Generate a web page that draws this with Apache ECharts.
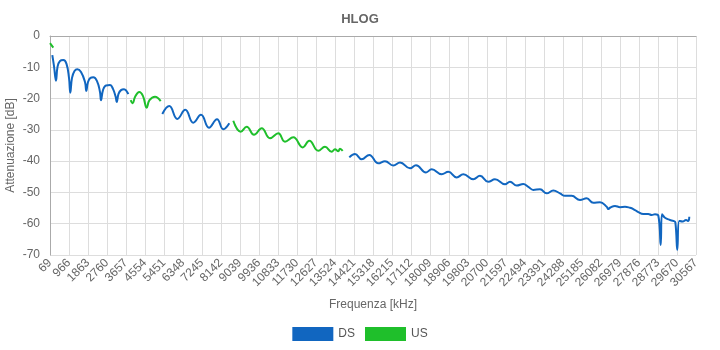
<!DOCTYPE html>
<html>
<head>
<meta charset="utf-8">
<script src="https://cdn.jsdelivr.net/npm/echarts@6/dist/echarts.min.js"></script>
<style>
  html, body { margin: 0; padding: 0; background: #fff; }
  #chart { width: 720px; height: 350px; }
</style>
</head>
<body>
<div id="chart"></div>
<script>
// HLOG per band: frequency in kHz, attenuation in dB
const ds1Freq = [178, 258, 352, 423, 541, 697, 848, 966, 1027, 1108, 1226, 1358, 1533, 1721, 1783, 1863, 1981, 2113, 2288, 2429, 2477, 2571, 2713, 2902, 3043, 3171, 3218, 3303, 3421, 3563, 3681, 3766];
const ds1Att  = [-6.1, -9.6, -14.3, -9.9, -8.0, -7.7, -8.9, -13.4, -18.1, -13.4, -11.2, -10.6, -11.5, -14.7, -17.5, -14.7, -13.4, -13.2, -14.4, -17.9, -20.5, -17.3, -15.8, -15.7, -16.9, -19.5, -21.1, -18.5, -17.3, -17.0, -17.6, -18.6];

const ds2Freq = [5371, 5701, 6079, 6456, 6834, 7197, 7575, 7953, 8251, 8534];
const ds2Att  = [-24.9, -22.4, -26.5, -23.6, -27.7, -25.2, -29.3, -26.6, -29.8, -27.9];

const ds3Freq = [14199, 14468, 14784, 15143, 15568, 15884, 16276, 16593, 17065, 17348, 17820, 18089, 18561, 18873, 19269, 19581, 20053, 20369, 20761, 21077, 21550, 21786, 22102, 22413, 22650, 22886, 23202, 23518, 23830, 24146, 24382, 24698, 25090, 25406, 25718, 26035, 26351, 26426, 26507, 26743, 26979, 27215, 27451, 27607, 27843, 28079, 28315, 28475, 28631, 28787, 28900, 28962, 29103, 29339, 29495, 29590, 29684, 29778, 29938, 30095, 30203, 30250];
const ds3Att  = [-38.8, -37.7, -39.4, -38.0, -40.7, -40.0, -41.4, -40.4, -42.3, -41.3, -43.6, -42.6, -44.2, -43.4, -45.2, -44.2, -45.8, -44.7, -46.6, -45.8, -47.4, -46.6, -47.8, -47.3, -48.2, -49.2, -49.0, -50.3, -49.4, -50.3, -51.1, -51.1, -52.4, -51.9, -53.3, -53.1, -54.6, -55.3, -54.9, -54.3, -54.7, -54.6, -54.9, -55.3, -56.3, -56.9, -56.9, -57.2, -57.0, -57.4, -66.8, -57.0, -58.1, -58.8, -59.1, -59.5, -68.4, -59.1, -59.3, -58.8, -59.1, -57.8];

const us1Freq = [69, 225];
const us1Att  = [-2.3, -3.7];

const us2Freq = [3879, 3973, 4082, 4285, 4460, 4634, 4766, 5026, 5295];
const us2Att  = [-20.5, -21.5, -19.5, -17.9, -19.2, -22.9, -20.5, -19.4, -20.8];

const us3Freq = [8722, 9072, 9355, 9700, 10063, 10455, 10847, 11163, 11555, 11999, 12311, 12735, 13051, 13368, 13523, 13679, 13760, 13887];
const us3Att  = [-27.1, -30.6, -29.0, -31.6, -29.5, -32.7, -31.1, -33.8, -32.4, -35.6, -33.5, -36.7, -35.4, -37.0, -36.2, -36.8, -36.0, -36.7];

// Axis ticks: first bin and label step in kHz
const freqStart = 69;
const freqStep = 897;
const freqEnd = 30567;
const attTicks = { min: -70, max: 0, step: 10 };

const seriesNames = ['DS', 'US'];
const seriesColors = ['#1166c0', '#1fbf2b'];

// Join band segments into one line, leaving a gap between bands.
// The x value is measured from the first bin so ticks land on the labels.
function joinSegments(segments) {
  const out = [];
  segments.forEach(([freqs, vals], i) => {
    if (i > 0) out.push([freqs[0] - freqStart - 1, '-']);
    freqs.forEach((f, k) => out.push([f - freqStart, vals[k]]));
  });
  return out;
}

const dsData = joinSegments([[ds1Freq, ds1Att], [ds2Freq, ds2Att], [ds3Freq, ds3Att]]);
const usData = joinSegments([[us1Freq, us1Att], [us2Freq, us2Att], [us3Freq, us3Att]]);

const font = 'Liberation Sans, Arial, sans-serif';
const chart = echarts.init(document.getElementById('chart'), null, { renderer: 'canvas' });

chart.setOption({
  animation: false,
  backgroundColor: '#ffffff',
  textStyle: { fontFamily: font },
  title: {
    text: 'HLOG',
    left: 'center',
    top: 8,
    textStyle: { fontSize: 13, fontWeight: 'bold', color: '#666', fontFamily: font }
  },
  legend: {
    data: seriesNames,
    bottom: 4,
    left: 'center',
    icon: 'rect',
    itemWidth: 41,
    itemHeight: 14,
    itemGap: 10,
    textStyle: { fontSize: 12, color: '#555', fontFamily: font }
  },
  grid: { left: 50, right: 24, top: 36, bottom: 95, containLabel: false, outerBoundsMode: 'none' },
  xAxis: {
    type: 'value',
    min: 0,
    max: freqEnd - freqStart,
    interval: freqStep,
    name: 'Frequenza [kHz]',
    nameLocation: 'middle',
    nameGap: 44,
    nameTextStyle: { fontSize: 12, color: '#666', fontFamily: font },
    axisLine: { show: true, lineStyle: { color: '#aaa' } },
    axisTick: { show: false },
    axisLabel: {
      rotate: 45,
      fontSize: 12,
      color: '#666',
      margin: 6,
      formatter: v => String(Math.round(v + freqStart))
    },
    splitLine: { show: true, lineStyle: { color: '#ddd' } }
  },
  yAxis: {
    type: 'value',
    min: attTicks.min,
    max: attTicks.max,
    interval: attTicks.step,
    name: 'Attenuazione [dB]',
    nameLocation: 'middle',
    nameGap: 33,
    nameMoveOverlap: false,
    nameTextStyle: { fontSize: 12, color: '#666', fontFamily: font },
    axisLine: { show: true, lineStyle: { color: '#aaa' } },
    axisTick: { show: false },
    axisLabel: { fontSize: 12, color: '#666', margin: 10 },
    splitLine: { show: true, lineStyle: { color: '#ddd' } }
  },
  series: [
    {
      name: 'DS',
      type: 'line',
      data: dsData,
      showSymbol: false,
      smooth: 0.45,
      connectNulls: false,
      color: seriesColors[0],
      lineStyle: { width: 2, color: seriesColors[0] }
    },
    {
      name: 'US',
      type: 'line',
      data: usData,
      showSymbol: false,
      smooth: 0.45,
      connectNulls: false,
      color: seriesColors[1],
      lineStyle: { width: 2, color: seriesColors[1] }
    }
  ]
});
</script>
</body>
</html>
